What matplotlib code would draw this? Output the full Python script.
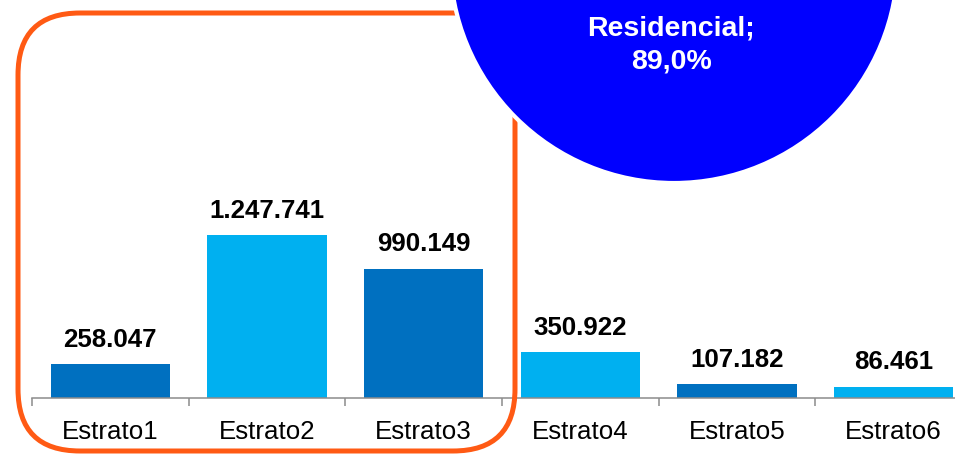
import matplotlib
matplotlib.use('Agg')
from matplotlib import pyplot as plt
from matplotlib.patches import Circle, FancyBboxPatch

plt.rcParams['font.family'] = ['Liberation Sans', 'DejaVu Sans']

categories = ['Estrato1', 'Estrato2', 'Estrato3', 'Estrato4', 'Estrato5', 'Estrato6']
values = [258047, 1247741, 990149, 350922, 107182, 86461]
colors = ['#0070C0', '#00B0F0', '#0070C0', '#00B0F0', '#0070C0', '#00B0F0']
slice_label = 'Residencial;'
slice_share = '89,0%'

W, H = 955, 455
fig = plt.figure(figsize=(W / 100, H / 100), dpi=100)

# main bar axes, pixel-placed (extends past right edge like the original)
ax = fig.add_axes([32 / W, 57 / H, 940 / W, 398 / H])
x = list(range(len(categories)))
ax.bar(x, values, width=0.76, color=colors, zorder=2)
ax.set_xlim(-0.5, len(categories) - 0.5)
ax.set_ylim(0, 398 * values[1] / 163)

for xi, v in zip(x, values):
    ax.annotate(f'{v:,}'.replace(',', '.'), (xi, v), xytext=(0, 12.5),
                textcoords='offset points', ha='center', va='baseline',
                fontsize=18.6, fontweight='bold', color='black')

for s in ['top', 'right', 'left']:
    ax.spines[s].set_visible(False)
ax.spines['bottom'].set_color('#8c8c8c')
ax.spines['bottom'].set_linewidth(1.1)
ax.set_yticks([])
ax.set_xticks(x)
ax.set_xticklabels(categories, fontsize=18.6)
ax.tick_params(axis='x', which='major', length=0, pad=15.5)
ax.set_xticks([i - 0.5 for i in range(len(categories) + 1)], minor=True)
ax.tick_params(axis='x', which='minor', length=6, width=1.1, color='#8c8c8c')
ax.patch.set_alpha(0)

# overlay in pixel coordinates for the highlight box and the pie slice
ov = fig.add_axes([0, 0, 1, 1], zorder=5)
ov.set_xlim(0, W)
ov.set_ylim(H, 0)
ov.axis('off')
ov.patch.set_alpha(0)

box = FancyBboxPatch((18, 13), 497, 438,
                     boxstyle='round,pad=0,rounding_size=62',
                     fc='none', ec='#FF5A14', lw=3.6)
ov.add_patch(box)

ov.add_patch(Circle((674, -41), 224, fc='#0000FF', ec='white', lw=3))
ov.text(671, 45, f'{slice_label}\n{slice_share}', ha='center', va='center',
        fontsize=20.5, fontweight='bold', color='white', linespacing=1.35)

fig.savefig('out.png', dpi=100)
